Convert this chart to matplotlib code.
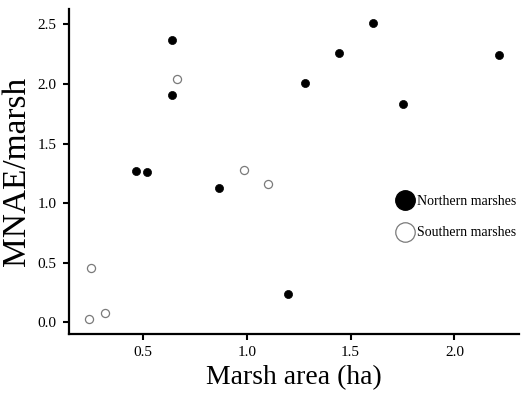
import matplotlib
matplotlib.use("Agg")
import matplotlib.pyplot as plt
from matplotlib.lines import Line2D

plt.rcParams['font.family'] = ['Liberation Serif', 'DejaVu Serif']

# Northern marshes (filled)
north_area = [0.64, 0.64, 0.466, 0.521, 0.867, 1.28, 1.446, 1.61, 1.753, 2.213, 1.20]
north_mnae = [2.37, 1.91, 1.265, 1.26, 1.13, 2.01, 2.26, 2.51, 1.83, 2.24, 0.24]

# Southern marshes (open)
south_area = [0.662, 0.986, 1.10, 0.249, 0.239, 0.319]
south_mnae = [2.04, 1.28, 1.16, 0.457, 0.025, 0.08]

x_ticks = [0.5, 1.0, 1.5, 2.0]
y_ticks = [0.0, 0.5, 1.0, 1.5, 2.0, 2.5]

fig = plt.figure(figsize=(5.24, 4.09), dpi=100)
ax = fig.add_axes([0.1317, 0.1834, 0.8583, 0.7946])

ax.scatter(north_area, north_mnae, s=34, c='black', edgecolors='black', linewidths=0.5, zorder=3)
ax.scatter(south_area, south_mnae, s=34, facecolors='white', edgecolors='#7a7a7a', linewidths=0.9, zorder=3)

ax.set_xlim(0.144, 2.31)
ax.set_ylim(-0.10, 2.63)
ax.set_xticks(x_ticks)
ax.set_yticks(y_ticks)
ax.set_xticklabels([f'{v:.1f}' for v in x_ticks])
ax.set_yticklabels([f'{v:.1f}' for v in y_ticks])

for side in ['top', 'right']:
    ax.spines[side].set_visible(False)
for side in ['left', 'bottom']:
    ax.spines[side].set_linewidth(1.6)
ax.tick_params(axis='both', direction='out', length=4, width=1.5, labelsize=11, pad=5)

ax.set_xlabel('Marsh area (ha)', fontsize=20, labelpad=4)
ax.set_ylabel('MNAE/marsh', fontsize=24, labelpad=4)

handles = [
    Line2D([], [], linestyle='none', marker='o', markersize=14,
           markerfacecolor='black', markeredgecolor='black', label='Northern marshes'),
    Line2D([], [], linestyle='none', marker='o', markersize=14,
           markerfacecolor='white', markeredgecolor='#7a7a7a', markeredgewidth=0.9, label='Southern marshes'),
]
ax.legend(handles=handles, loc='center left', bbox_to_anchor=(0.70, 0.36), frameon=False,
          fontsize=10, handletextpad=0.3, labelspacing=1.35, handlelength=1.2)

fig.savefig('out.png', dpi=100)
